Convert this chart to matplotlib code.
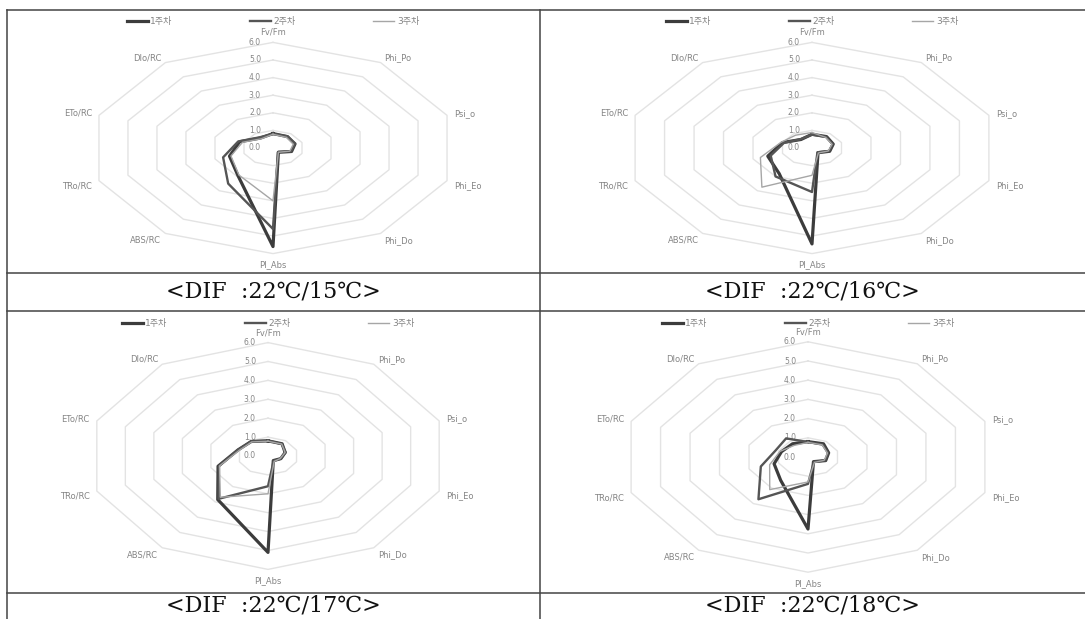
import numpy as np
import matplotlib
matplotlib.use("Agg")
import matplotlib.pyplot as plt
from matplotlib.lines import Line2D

plt.rcParams['font.family'] = ['DejaVu Sans', 'Noto Sans CJK KR']

# radar axes, clockwise from the top
axis_names = ["Fv/Fm", "Phi_Po", "Psi_o", "Phi_Eo", "Phi_Do",
              "PI_Abs", "ABS/RC", "TRo/RC", "ETo/RC", "DIo/RC"]
weeks = ["1주차", "2주차", "3주차"]
captions = ["<DIF  :22℃/15℃>", "<DIF  :22℃/16℃>",
            "<DIF  :22℃/17℃>", "<DIF  :22℃/18℃>"]
ticks = [0, 1, 2, 3, 4, 5, 6]

# values, one list per week and panel
w1_15 = [0.82, 0.80, 0.76, 0.64, 0.30, 5.60, 1.95, 1.50, 1.15, 0.70]
w2_15 = [0.80, 0.82, 0.75, 0.62, 0.28, 4.60, 2.50, 1.72, 1.20, 0.75]
w3_15 = [0.78, 0.75, 0.70, 0.58, 0.30, 3.00, 1.90, 1.45, 1.05, 0.65]

w1_16 = [0.78, 0.80, 0.72, 0.60, 0.33, 5.45, 1.80, 1.50, 1.00, 0.60]
w2_16 = [0.76, 0.78, 0.70, 0.58, 0.30, 2.50, 2.00, 1.40, 0.95, 0.62]
w3_16 = [0.88, 0.75, 0.68, 0.55, 0.35, 1.55, 2.75, 1.75, 1.05, 0.90]

w1_17 = [0.80, 0.80, 0.60, 0.45, 0.30, 5.10, 2.85, 1.75, 1.05, 0.95]
w2_17 = [0.82, 0.78, 0.62, 0.45, 0.32, 1.60, 2.80, 1.72, 1.05, 0.95]
w3_17 = [0.78, 0.78, 0.60, 0.43, 0.35, 2.00, 2.70, 1.70, 1.00, 0.92]

w1_18 = [0.80, 0.85, 0.70, 0.60, 0.30, 3.75, 1.50, 1.15, 0.90, 0.85]
w2_18 = [0.78, 0.80, 0.68, 0.58, 0.32, 1.40, 2.72, 1.60, 1.10, 1.20]
w3_18 = [0.76, 0.78, 0.66, 0.55, 0.35, 1.30, 2.10, 1.30, 0.95, 0.75]

panels = [[w1_15, w2_15, w3_15], [w1_16, w2_16, w3_16],
          [w1_17, w2_17, w3_17], [w1_18, w2_18, w3_18]]

W, H = 1085, 619
fig = plt.figure(figsize=(W / 100, H / 100), dpi=100)

# cell box (px), radar centre (px), px per unit in x and y, legend gap (px)
cells = [
    (7, 540, 10, 273, 273, 148, 30.5, 17.6, 7),
    (540, 1084, 10, 273, 812, 148, 31.0, 17.6, 7),
    (7, 540, 311, 593, 268, 456, 30.0, 18.9, 8),
    (540, 1084, 311, 593, 808, 457, 31.0, 19.2, 8),
]
caption_y = [292, 292, 606, 606]

styles = [dict(color="#3c3c3c", lw=2.3),
          dict(color="#555555", lw=1.7),
          dict(color="#a6a6a6", lw=1.0)]

# label offsets in pixels (dx, dy) and alignment
lab_off = [(0, 10, "center"), (4, 5, "left"), (7, 2, "left"), (7, -5, "left"),
           (4, -7, "left"), (0, -11, "center"), (-4, -7, "right"),
           (-7, -5, "right"), (-7, 2, "right"), (-4, 5, "right")]

theta = np.arange(len(axis_names)) * 2 * np.pi / len(axis_names)
st, ct = np.sin(theta), np.cos(theta)
gray = "#858585"


def ring(r):
    x, y = r * st, r * ct
    return np.append(x, x[0]), np.append(y, y[0])


for k, (x0, x1, y0, y1, cx, cy, sx, sy, lg) in enumerate(cells):
    ax = fig.add_axes([x0 / W, 1 - y1 / H, (x1 - x0) / W, (y1 - y0) / H])
    ax.set_xlim((x0 - cx) / sx, (x1 - cx) / sx)
    ax.set_ylim(-(y1 - cy) / sy, (cy - y0) / sy)
    ax.axis("off")

    # decagon grid
    for r in ticks[1:]:
        gx, gy = ring(r)
        ax.plot(gx, gy, color="#e3e3e3", lw=1.0, zorder=1)

    # radial tick labels
    for r in ticks:
        ax.text(-12 / sx, r, f"{r:.1f}", ha="right", va="center",
                fontsize=5.5, color=gray, zorder=2)

    # axis names
    for i, name in enumerate(axis_names):
        dx, dy, ha = lab_off[i]
        ax.annotate(name, (6 * st[i], 6 * ct[i]), xytext=(dx, dy),
                    textcoords="offset pixels", ha=ha, va="center",
                    fontsize=6, color=gray)

    for vals, name, s in zip(panels[k], weeks, styles):
        px, py = ring(np.array(vals))
        ax.plot(px, py, label=name, zorder=3, **s)

    top = 1 - lg / (y1 - y0)
    leg = ax.legend(loc="upper center", bbox_to_anchor=(0.5 + (cx - (x0 + x1) / 2) / (x1 - x0), top),
                    ncol=3, frameon=False, fontsize=6.5, handlelength=2.3,
                    handletextpad=0.3, columnspacing=8.6, borderaxespad=0,
                    borderpad=0)
    for t in leg.get_texts():
        t.set_color(gray)

    fig.text(((x0 + x1) / 2) / W, 1 - caption_y[k] / H, captions[k],
             ha="center", va="center", fontsize=16,
             family=["DejaVu Serif", "DejaVu Sans"], color="#111111")

# table rules
rule = dict(color="#444444", lw=1.1)
for yy in [10, 273, 311, 593]:
    fig.add_artist(Line2D([7 / W, 1], [1 - yy / H, 1 - yy / H], **rule))
for xx in [7, 540]:
    fig.add_artist(Line2D([xx / W, xx / W], [1 - 10 / H, 0], **rule))

fig.savefig("out.png", dpi=100)
